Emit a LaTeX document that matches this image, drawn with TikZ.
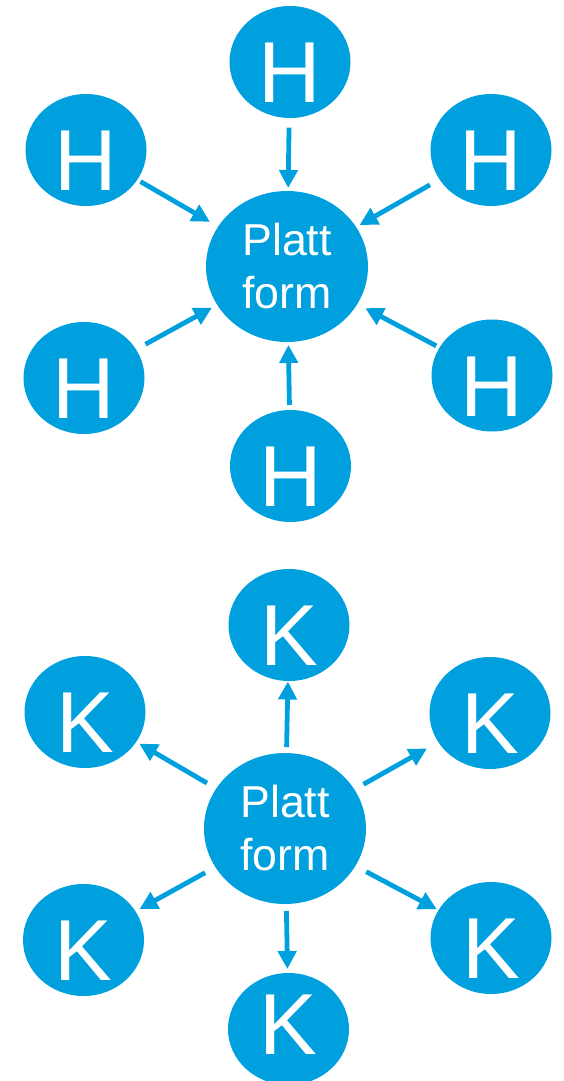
\documentclass[tikz,border=0pt]{standalone}
\usepackage{fontspec}
\setmainfont{Liberation Sans}
\usetikzlibrary{shapes.geometric,arrows.meta}
\definecolor{pblue}{RGB}{0,160,223}
\begin{document}
\begin{tikzpicture}[x=1pt,y=-1pt,
  outer/.style={ellipse,fill=pblue,minimum width=121pt,minimum height=112pt,inner sep=0pt,outer sep=0pt},
  hub/.style={ellipse,fill=pblue,minimum width=162pt,minimum height=151pt,inner sep=0pt,outer sep=0pt,
    text=white,align=center,font=\fontsize{44.7}{53}\selectfont},
  lettr/.style={text=white,font=\fontsize{86.6}{90}\selectfont,inner sep=0pt,yshift=-11pt},
  conn/.style={draw=pblue,line width=4.8pt,-{Triangle[length=18pt,width=18pt]}}]
\useasboundingbox (0,0) rectangle (563,1081);

% top diagram
\node[hub] (c1) at (287,266.5) {Platt\\form};
\node[outer,label={[lettr]center:H}] (h1) at (290,62) {};
\node[outer,label={[lettr]center:H}] (h2) at (86,150) {};
\node[outer,label={[lettr]center:H}] (h3) at (491,150) {};
\node[outer,label={[lettr]center:H}] (h4) at (84,378) {};
\node[outer,label={[lettr]center:H}] (h5) at (492,375.5) {};
\node[outer,label={[lettr]center:H}] (h6) at (290.5,466) {};

\draw[conn,shorten <=9.6pt,shorten >=3pt] (h1) -- (c1);
\draw[conn,shorten <=3.7pt,shorten >=9.6pt] (h2) -- (c1);
\draw[conn,shorten <=11pt,shorten >=4pt] (h3) -- (c1);
\draw[conn,shorten <=10.8pt,shorten >=6pt] (h4) -- (c1);
\draw[conn,shorten <=3.7pt,shorten >=9pt] (h5) -- (c1);
\draw[conn,shorten <=5pt,shorten >=3pt] (h6) -- (c1);

% bottom diagram
\node[hub] (c2) at (285,828.5) {Platt\\form};
\node[outer,label={[lettr]center:K}] (k1) at (289,625) {};
\node[outer,label={[lettr]center:K}] (k2) at (85,712) {};
\node[outer,label={[lettr]center:K}] (k3) at (490,713) {};
\node[outer,label={[lettr]center:K}] (k4) at (83.5,940) {};
\node[outer,label={[lettr]center:K}] (k5) at (491,938) {};
\node[outer,label={[lettr,yshift=15.5pt]center:K}] (k6) at (288.5,1029) {};

\draw[conn,shorten <=6pt,shorten >=0.5pt] (c2) -- (k1);
\draw[conn,shorten <=10.8pt,shorten >=3.6pt] (c2) -- (k2);
\draw[conn,shorten <=10.5pt,shorten >=13pt] (c2) -- (k3);
\draw[conn,shorten <=11.7pt,shorten >=4.6pt] (c2) -- (k4);
\draw[conn,shorten <=12.3pt,shorten >=2pt] (c2) -- (k5);
\draw[conn,shorten <=7pt,shorten >=4pt] (c2) -- (k6);
\end{tikzpicture}
\end{document}
